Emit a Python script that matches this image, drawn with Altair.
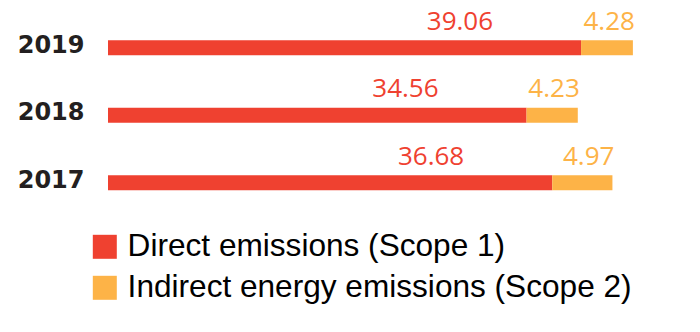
import altair as alt
import pandas as pd

years = ["2019", "2018", "2017"]
direct = [39.06, 34.56, 36.68]
indirect = [4.28, 4.23, 4.97]
scopes = ["Direct emissions (Scope 1)", "Indirect energy emissions (Scope 2)"]
colors = ["#EF4130", "#FDB347"]

rows = []
for y, d, i in zip(years, direct, indirect):
    rows.append({"year": y, "scope": scopes[0], "start": 0.0, "end": d, "value": d})
    rows.append({"year": y, "scope": scopes[1], "start": d, "end": round(d + i, 2), "value": i})
df = pd.DataFrame(rows)

yenc = alt.Y(
    "year:N",
    sort=years,
    scale=alt.Scale(paddingInner=0, paddingOuter=0),
    axis=alt.Axis(
        title=None, ticks=False, domain=False, labelPadding=24,
        labelFont="DejaVu Sans", labelFontWeight="bold", labelFontSize=24,
        labelColor="#231F20", labelOffset=-2,
    ),
)
xscale = alt.Scale(domain=[0, 45], nice=False)

base = alt.Chart(df)

bars = base.mark_bar(size=15).encode(
    y=yenc,
    x=alt.X("start:Q", scale=xscale, axis=None),
    x2="end:Q",
    color=alt.Color(
        "scope:N",
        scale=alt.Scale(domain=scopes, range=colors),
        legend=alt.Legend(
            title=None, orient="none", legendX=-19, legendY=217,
            symbolType="square", symbolSize=576, symbolStrokeWidth=0,
            labelFont="Liberation Sans", labelFontSize=31.6, labelColor="#000000",
            padding=0, rowPadding=8, labelOffset=7, labelLimit=0,
            direction="vertical",
        ),
    ),
)

red_labels = base.transform_filter(alt.datum.scope == scopes[0]).mark_text(
    align="right", baseline="alphabetic", dx=-88, dy=-18,
    font="Open Sans", fontSize=26, color=colors[0],
).encode(
    y=alt.Y("year:N", sort=years),
    x=alt.X("end:Q", scale=xscale),
    text=alt.Text("value:Q", format=".2f"),
)

orange_labels = base.transform_filter(alt.datum.scope == scopes[1]).mark_text(
    align="right", baseline="alphabetic", dx=2, dy=-18,
    font="Open Sans", fontSize=26, color=colors[1],
).encode(
    y=alt.Y("year:N", sort=years),
    x=alt.X("end:Q", scale=xscale),
    text=alt.Text("value:Q", format=".2f"),
)

chart = alt.layer(bars, red_labels, orange_labels).properties(
    width=545,
    height=202.5,
    autosize=alt.AutoSizeParams(type="none"),
    padding={"left": 108, "top": 14, "right": 47, "bottom": 115.5},
    background="white",
).configure_view(stroke=None)

chart.save("out.html", embed_options={"renderer": "svg", "actions": False})
